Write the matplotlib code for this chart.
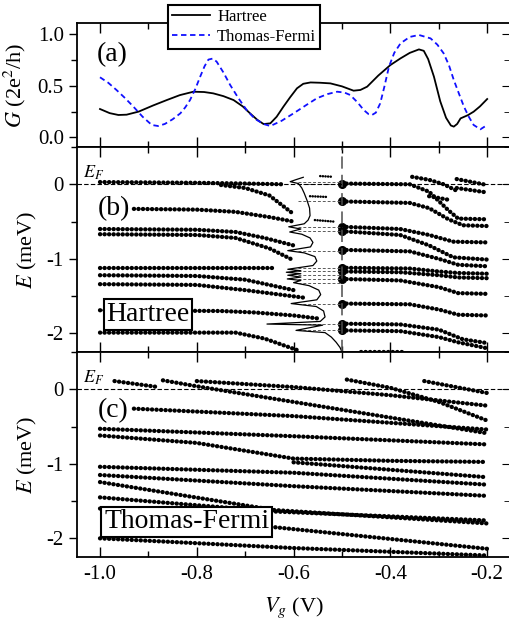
import matplotlib.pyplot as plt
from matplotlib.ticker import MultipleLocator

plt.rcParams['font.family'] = ['Liberation Serif', 'DejaVu Serif']
plt.rcParams['mathtext.fontset'] = 'stix'
plt.rcParams['axes.unicode_minus'] = False

# (a) conductance
h_vg = [-1.0, -0.98, -0.962, -0.945, -0.92, -0.89, -0.862, -0.835, -0.807, -0.785, -0.766,
        -0.745, -0.724, -0.705, -0.69, -0.675, -0.662, -0.648, -0.635, -0.621, -0.607, -0.593,
        -0.58, -0.565, -0.545, -0.524, -0.5, -0.476, -0.462, -0.448, -0.425, -0.4, -0.379,
        -0.36, -0.341, -0.331, -0.322, -0.31, -0.297, -0.285, -0.275, -0.269, -0.262, -0.255,
        -0.24, -0.228, -0.215, -0.2]
h_g = [0.275, 0.235, 0.217, 0.22, 0.25, 0.31, 0.362, 0.41, 0.443, 0.44, 0.427,
       0.40, 0.362, 0.30, 0.233, 0.17, 0.129, 0.136, 0.20, 0.298, 0.39, 0.476,
       0.52, 0.533, 0.53, 0.524, 0.495, 0.453, 0.46, 0.492, 0.60, 0.702, 0.767,
       0.82, 0.854, 0.84, 0.76, 0.589, 0.35, 0.19, 0.115, 0.104, 0.13, 0.184,
       0.215, 0.249, 0.30, 0.372]
tf_vg = [-1.0, -0.983, -0.966, -0.948, -0.931, -0.912, -0.893, -0.88, -0.866, -0.85, -0.834,
         -0.824, -0.814, -0.803, -0.793, -0.784, -0.776, -0.767, -0.759, -0.745, -0.731, -0.714,
         -0.697, -0.68, -0.662, -0.648, -0.625, -0.6, -0.575, -0.552, -0.53, -0.51, -0.495,
         -0.483, -0.468, -0.455, -0.445, -0.438, -0.43, -0.421, -0.412, -0.403, -0.392, -0.379,
         -0.36, -0.341, -0.317, -0.303, -0.29, -0.279, -0.269, -0.258, -0.248, -0.238, -0.228,
         -0.214, -0.2]
tf_g = [0.583, 0.53, 0.46, 0.38, 0.298, 0.2, 0.12, 0.11, 0.13, 0.175, 0.233,
        0.29, 0.362, 0.47, 0.589, 0.69, 0.755, 0.765, 0.735, 0.63, 0.508, 0.38,
        0.265, 0.18, 0.129, 0.11, 0.16, 0.233, 0.31, 0.379, 0.42, 0.443, 0.435,
        0.411, 0.34, 0.265, 0.225, 0.217, 0.24, 0.33, 0.5, 0.686, 0.82, 0.913,
        0.975, 0.994, 0.961, 0.9, 0.816, 0.7, 0.557, 0.42, 0.298, 0.2, 0.12,
        0.078, 0.12]

# (b) Hartree levels, (vg points, energies)
hartree_left = [
    ([-1.00, -0.80, -0.70, -0.62], [0.03, 0.02, 0.01, 0.00]),
    ([-0.75, -0.70, -0.65, -0.60], [-0.01, -0.05, -0.15, -0.40]),
    ([-0.93, -0.80, -0.72, -0.65, -0.60], [-0.33, -0.34, -0.37, -0.44, -0.50]),
    ([-1.00, -0.80, -0.72, -0.66, -0.60], [-0.60, -0.61, -0.64, -0.72, -0.82]),
    ([-1.00, -0.80, -0.72, -0.65, -0.60], [-0.67, -0.68, -0.72, -0.86, -1.02]),
    ([-1.00, -0.64], [-1.12, -1.12]),
    ([-1.00, -0.80, -0.70, -0.60], [-1.22, -1.23, -1.28, -1.42]),
    ([-1.00, -0.80, -0.70, -0.58], [-1.34, -1.35, -1.42, -1.52]),
    ([-1.00, -0.75, -0.68, -0.60, -0.55], [-1.69, -1.70, -1.72, -1.76, -1.80]),
    ([-1.00, -0.72, -0.66, -0.59], [-1.99, -1.99, -2.07, -2.23]),
]
hartree_right = [
    ([-0.50, -0.36, -0.32, -0.28, -0.26, -0.20], [0.01, 0.00, -0.10, -0.35, -0.46, -0.47]),
    ([-0.50, -0.36, -0.32, -0.28, -0.25, -0.20], [-0.23, -0.25, -0.32, -0.47, -0.55, -0.56]),
    ([-0.50, -0.38, -0.32, -0.27, -0.20], [-0.57, -0.60, -0.68, -0.77, -0.78]),
    ([-0.50, -0.38, -0.32, -0.27, -0.20], [-0.63, -0.68, -0.82, -0.98, -1.01]),
    ([-0.50, -0.36, -0.30, -0.26, -0.20], [-0.88, -0.90, -1.00, -1.08, -1.10]),
    ([-0.50, -0.36, -0.30, -0.26, -0.20], [-1.12, -1.13, -1.17, -1.19, -1.20]),
    ([-0.50, -0.38, -0.30, -0.26, -0.20], [-1.17, -1.18, -1.22, -1.25, -1.26]),
    ([-0.50, -0.38, -0.30, -0.26, -0.20], [-1.27, -1.29, -1.38, -1.46, -1.47]),
    ([-0.50, -0.36, -0.30, -0.26, -0.20], [-1.60, -1.61, -1.68, -1.75, -1.76]),
    ([-0.50, -0.38, -0.30, -0.25, -0.20], [-1.87, -1.88, -1.95, -2.08, -2.13]),
    ([-0.50, -0.38, -0.30, -0.26, -0.20], [-1.96, -1.97, -2.05, -2.12, -2.20]),
    ([-0.355, -0.32, -0.29, -0.265], [0.10, 0.06, 0.00, -0.08]),
    ([-0.32, -0.278], [-0.16, -0.21]),
    ([-0.263, -0.20], [0.07, -0.01]),
    ([-0.263, -0.20], [-0.05, -0.11]),
    ([-0.46, -0.37], [-2.25, -2.25]),
]
hartree_mid = [
    ([-0.545, -0.518], [0.11, 0.10]),
    ([-0.566, -0.531], [-0.16, -0.17]),
    ([-0.556, -0.518], [-0.48, -0.50]),
]
conn_e = [0.03, 0.0, -0.22, -0.57, -0.63, -0.89, -1.12, -1.17, -1.22, -1.27, -1.32, -1.60, -1.87, -1.96]
conn_vg = (-0.59, -0.50)
vg_cut = -0.5

# density of states drawn sideways in (b)
dos_vg = [-0.580, -0.596, -0.607, -0.590, -0.583, -0.578, -0.572, -0.567, -0.566, -0.570, -0.578,
          -0.610, -0.585, -0.608, -0.583, -0.566, -0.560, -0.565, -0.612, -0.578, -0.556, -0.552,
          -0.560, -0.612, -0.585, -0.615, -0.585, -0.612, -0.585, -0.613, -0.585, -0.600, -0.568,
          -0.548, -0.544, -0.552, -0.605, -0.553, -0.538, -0.535, -0.545, -0.655, -0.540, -0.595,
          -0.535, -0.522, -0.512, -0.504, -0.500]
dos_e = [0.094, 0.06, 0.035, 0.01, -0.05, -0.12, -0.22, -0.32, -0.42, -0.48, -0.53,
         -0.57, -0.60, -0.64, -0.67, -0.72, -0.78, -0.84, -0.89, -0.92, -0.97, -1.03,
         -1.09, -1.14, -1.16, -1.18, -1.20, -1.22, -1.245, -1.27, -1.29, -1.32, -1.36,
         -1.42, -1.48, -1.55, -1.60, -1.64, -1.70, -1.78, -1.84, -1.875, -1.89, -1.96,
         -1.99, -2.05, -2.12, -2.19, -2.25]

# (c) Thomas-Fermi levels
tf_levels = [
    ([-0.97, -0.88], [0.11, 0.03]),
    ([-0.87, -0.80, -0.60, -0.40, -0.20], [0.12, 0.04, -0.17, -0.38, -0.59]),
    ([-0.80, -0.60, -0.40, -0.20], [0.11, 0.03, -0.08, -0.22]),
    ([-0.49, -0.40, -0.30, -0.20], [0.13, 0.02, -0.17, -0.42]),
    ([-0.33, -0.20], [0.11, -0.05]),
    ([-0.93, -0.60, -0.40, -0.20], [-0.26, -0.36, -0.45, -0.54]),
    ([-1.00, -0.60, -0.20], [-0.53, -0.63, -0.74]),
    ([-1.00, -0.80, -0.60, -0.40, -0.20], [-0.62, -0.72, -0.93, -0.96, -0.975]),
    ([-1.00, -0.60, -0.20], [-1.04, -1.12, -1.28]),
    ([-1.00, -0.60, -0.20], [-1.15, -1.30, -1.43]),
    ([-1.00, -0.64, -0.20], [-1.245, -1.62, -1.80]),
    ([-1.00, -0.64, -0.20], [-1.45, -1.64, -1.76]),
    ([-1.00, -0.64, -0.20], [-1.60, -1.85, -2.14]),
    ([-1.00, -0.60, -0.20], [-2.00, -2.13, -2.23]),
    ([-0.60, -0.20], [-0.98, -1.18]),
]

fig = plt.figure(figsize=(5.09, 6.24), dpi=100)
ax_a = fig.add_axes([0.1513, 0.7644, 0.851, 0.1987])
ax_b = fig.add_axes([0.1513, 0.4359, 0.851, 0.3285])
ax_c = fig.add_axes([0.1513, 0.1074, 0.851, 0.3285])


def dots(ax, v, e, lw=3.1):
    ax.plot(v, e, color='k', lw=lw, ls=(0, (0.05, 1.0)), dash_capstyle='round')


def style(ax, ymaj, ymin):
    ax.set_xlim(-1.0475, -0.1525)
    ax.xaxis.set_major_locator(MultipleLocator(0.2))
    ax.xaxis.set_minor_locator(MultipleLocator(0.1))
    ax.yaxis.set_major_locator(MultipleLocator(ymaj))
    ax.yaxis.set_minor_locator(MultipleLocator(ymin))
    ax.tick_params(axis='x', which='both', direction='in', top=True, labelbottom=False)
    ax.tick_params(axis='x', which='major', length=7, width=1)
    ax.tick_params(axis='x', which='minor', length=4, width=1)
    ax.tick_params(axis='y', which='major', direction='out', length=6, width=1, labelsize=15)
    ax.tick_params(axis='y', which='minor', direction='out', length=4, width=1)
    sec = ax.secondary_yaxis('right')
    sec.yaxis.set_major_locator(MultipleLocator(ymaj))
    sec.yaxis.set_minor_locator(MultipleLocator(ymin))
    sec.tick_params(which='both', direction='in', labelright=False)
    sec.tick_params(which='major', length=6)
    sec.tick_params(which='minor', length=4)
    for s in ax.spines.values():
        s.set_linewidth(1.3)


# panel (a)
ax_a.plot(h_vg, h_g, color='k', lw=1.3, label='Hartree')
ax_a.plot(tf_vg, tf_g, color='#1010ff', lw=1.3, ls=(0, (3, 2)), label='Thomas-Fermi')
ax_a.set_ylim(-0.094, 1.11)
style(ax_a, 0.5, 0.25)
ax_a.yaxis.set_major_formatter(plt.FormatStrFormatter('%.1f'))
ax_a.set_ylabel('$G$ (2e$^2$/h)', fontsize=16)
ax_a.text(-1.006, 0.8, '(a)', fontsize=20, va='center')
leg = fig.legend(loc='upper left', bbox_to_anchor=(0.33, 0.992), fontsize=12,
                 fancybox=False, framealpha=1, edgecolor='k', handlelength=2.3,
                 borderpad=0.25, labelspacing=0.25, handletextpad=0.4, borderaxespad=0)
leg.get_frame().set_linewidth(1.5)

# panel (b)
for v, e in hartree_left + hartree_right:
    dots(ax_b, v, e)
for v, e in hartree_mid:
    dots(ax_b, v, e, lw=1.8)
for v, e in hartree_right[:11]:
    ax_b.plot(v[0], e[0], 'o', color='k', ms=5.5)
ax_b.hlines(conn_e, conn_vg[0], conn_vg[1], colors='0.35', lw=0.7, linestyles=(0, (3, 2)))
ax_b.plot(dos_vg, dos_e, color='k', lw=0.9)
ax_b.axvline(vg_cut, color='0.3', lw=1.1, ls=(0, (8, 4)))

# panel (c)
for v, e in tf_levels:
    dots(ax_c, v, e)

for ax, lab, box in [(ax_b, '(b)', 'Hartree'), (ax_c, '(c)', 'Thomas-Fermi')]:
    ax.set_ylim(-2.25, 0.5)
    ax.axhline(0, color='k', lw=0.8, ls=(0, (4, 2)))
    style(ax, 1, 0.5)
    ax.set_ylabel('$E$ (meV)', fontsize=16)
    ax.text(-1.035, 0.09, '$E_F$', fontsize=13)
    ax.text(-1.004, -0.32 if lab == '(b)' else -0.28, lab, fontsize=20, va='center')
    bx = -0.901 if lab == '(b)' else -0.821
    ax.text(bx, -1.75 if lab == '(b)' else -1.78, box, fontsize=20, ha='center', va='center',
            bbox=dict(boxstyle='square,pad=0.1', fc='white', ec='k', lw=1.5))

ax_c.tick_params(axis='x', labelbottom=True, labelsize=15, pad=6)
ax_c.set_xlabel('$V_g$ (V)', fontsize=16, labelpad=8)

ax_a.yaxis.set_label_coords(-0.112, 0.5)
ax_b.yaxis.set_label_coords(-0.088, 0.5)
ax_c.yaxis.set_label_coords(-0.088, 0.5)

fig.savefig('out.png', dpi=100)
